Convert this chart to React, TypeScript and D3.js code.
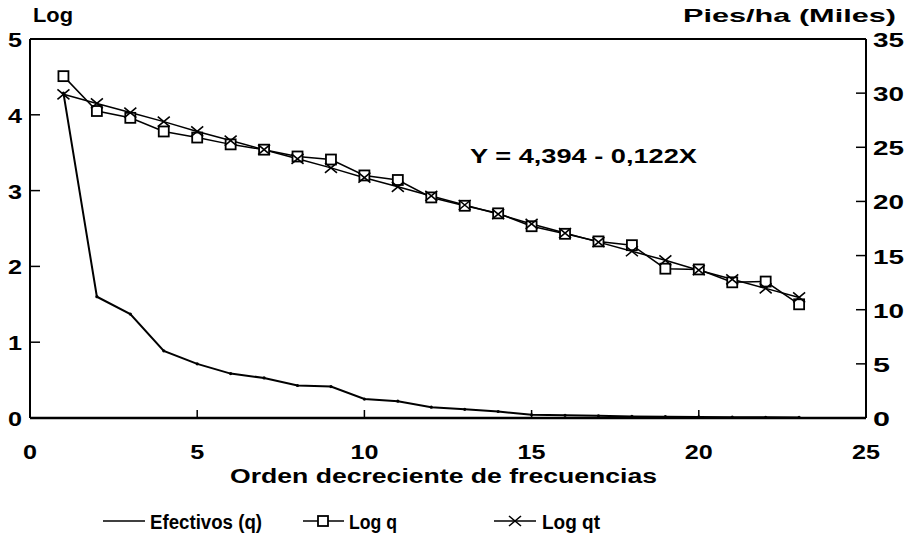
import React from "react";
import * as d3 from "d3";

const orden = [1,2,3,4,5,6,7,8,9,10,11,12,13,14,15,16,17,18,19,20,21,22,23];
const efectivos = [30.0,11.2,9.6,6.2,5.0,4.1,3.7,3.0,2.9,1.75,1.55,1.0,0.8,0.6,0.3,0.25,0.2,0.15,0.12,0.1,0.08,0.06,0.05];
const logQ = [4.51,4.05,3.96,3.78,3.70,3.61,3.54,3.45,3.41,3.20,3.14,2.91,2.80,2.70,2.53,2.43,2.33,2.28,1.97,1.96,1.79,1.80,1.50];
const logQt = [4.27,4.15,4.03,3.91,3.78,3.66,3.54,3.42,3.30,3.17,3.05,2.93,2.81,2.69,2.56,2.44,2.32,2.20,2.08,1.95,1.83,1.71,1.59];
const xTicks = [0,5,10,15,20,25];
const leftTicks = [0,1,2,3,4,5];
const rightTicks = [0,5,10,15,20,25,30,35];

const FONT = "'Liberation Sans', Arial, sans-serif";

export default function App() {
  const x = d3.scaleLinear().domain([0, 25]).range([30, 866]);
  const yL = d3.scaleLinear().domain([0, 5]).range([418, 39]);
  const yR = d3.scaleLinear().domain([0, 35]).range([418, 39]);

  const lineEf = d3.line<number>().x((_, i) => x(orden[i])).y((d) => yR(d));
  const lineL = d3.line<number>().x((_, i) => x(orden[i])).y((d) => yL(d));

  const sq = (cx: number, cy: number, k: string) => (
    <rect key={k} x={cx - 5} y={cy - 5} width={10} height={10} fill="white" stroke="black" strokeWidth={1.8} />
  );
  const cross = (cx: number, cy: number, k: string) => (
    <path key={k} d={`M${cx - 6},${cy - 5}L${cx + 6},${cy + 5}M${cx - 6},${cy + 5}L${cx + 6},${cy - 5}`} stroke="black" strokeWidth={1.6} fill="none" />
  );
  const tl = (t: number) => String(t).length * 14;

  return (
    <svg width={910} height={552} style={{ position: "absolute", left: 0, top: 0, background: "white" }} fontFamily={FONT} fontWeight="bold">
      {/* frame */}
      <line x1={x(0)} x2={x(25)} y1={yL(5)} y2={yL(5)} stroke="black" strokeWidth={2} />
      <line x1={x(0)} x2={x(25)} y1={yL(0)} y2={yL(0)} stroke="black" strokeWidth={2.5} />
      <line x1={x(0)} x2={x(0)} y1={yL(5)} y2={yL(0)} stroke="black" strokeWidth={2} />
      <line x1={x(25)} x2={x(25)} y1={yL(5)} y2={yL(0)} stroke="black" strokeWidth={2} />

      {/* x ticks */}
      {xTicks.map((t) => (
        <g key={"xt" + t}>
          {t > 0 && t < 25 && <line x1={x(t)} x2={x(t)} y1={yL(0)} y2={yL(0) - 8} stroke="black" strokeWidth={1.5} />}
          <text x={x(t) - tl(t) / 2} y={459} fontSize={21} textLength={tl(t)} lengthAdjust="spacingAndGlyphs">{t}</text>
        </g>
      ))}
      {/* left ticks */}
      {leftTicks.map((t) => (
        <g key={"lt" + t}>
          {t > 0 && t < 5 && <line x1={x(0)} x2={x(0) + 10} y1={yL(t)} y2={yL(t)} stroke="black" strokeWidth={1.5} />}
          <text x={8} y={yL(t) + 8} fontSize={21} textLength={tl(t)} lengthAdjust="spacingAndGlyphs">{t}</text>
        </g>
      ))}
      {/* right ticks */}
      {rightTicks.map((t) => (
        <g key={"rt" + t}>
          {t > 0 && t < 35 && <line x1={x(25)} x2={x(25) - 10} y1={yR(t)} y2={yR(t)} stroke="black" strokeWidth={1.5} />}
          <text x={873} y={yR(t) + 8} fontSize={21} textLength={tl(t) + 3} lengthAdjust="spacingAndGlyphs">{t}</text>
        </g>
      ))}

      <text x={33} y={22} fontSize={20} textLength={40} lengthAdjust="spacingAndGlyphs">Log</text>
      <text x={683} y={22} fontSize={19} textLength={213} lengthAdjust="spacingAndGlyphs">Pies/ha (Miles)</text>
      <text x={230} y={483} fontSize={20} textLength={427} lengthAdjust="spacingAndGlyphs">Orden decreciente de frecuencias</text>
      <text x={470} y={163} fontSize={20} textLength={227} lengthAdjust="spacingAndGlyphs">Y = 4,394 - 0,122X</text>

      {/* series */}
      <path d={lineEf(efectivos) || ""} fill="none" stroke="black" strokeWidth={2} />
      {efectivos.map((d, i) => (
        <circle key={"ef" + i} cx={x(orden[i])} cy={yR(d)} r={1.6} fill="black" />
      ))}
      <path d={lineL(logQt) || ""} fill="none" stroke="black" strokeWidth={1.5} />
      <path d={lineL(logQ) || ""} fill="none" stroke="black" strokeWidth={1.5} />
      {logQ.map((d, i) => sq(x(orden[i]), yL(d), "q" + i))}
      {logQt.map((d, i) => cross(x(orden[i]), yL(d), "qt" + i))}

      {/* legend */}
      <line x1={103} x2={145} y1={521} y2={521} stroke="black" strokeWidth={1.5} />
      <text x={150} y={529} fontSize={20} textLength={112} lengthAdjust="spacingAndGlyphs">Efectivos (q)</text>
      <line x1={303} x2={344} y1={521} y2={521} stroke="black" strokeWidth={1.5} />
      {sq(323, 521, "lq")}
      <text x={349} y={529} fontSize={20} textLength={48} lengthAdjust="spacingAndGlyphs">Log q</text>
      <line x1={494} x2={536} y1={521} y2={521} stroke="black" strokeWidth={1.5} />
      {cross(515, 521, "lqt")}
      <text x={542} y={529} fontSize={20} textLength={58} lengthAdjust="spacingAndGlyphs">Log qt</text>
    </svg>
  );
}
